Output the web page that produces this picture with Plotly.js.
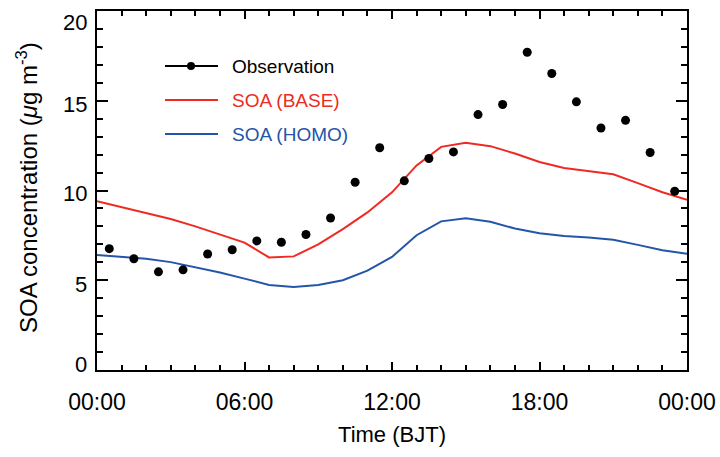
<!DOCTYPE html>
<html>
<head>
<meta charset="utf-8">
<script src="https://cdn.plot.ly/plotly-3.0.1.min.js"></script>
<style>html,body{margin:0;padding:0;background:#fff;}#chart{width:720px;height:457px;}</style>
</head>
<body>
<div id="chart"></div>
<script>
// Observation (hourly, at half hours)
const obsHours = [0.5,1.5,2.5,3.5,4.5,5.5,6.5,7.5,8.5,9.5,10.5,11.5,12.5,13.5,14.5,15.5,16.5,17.5,18.5,19.5,20.5,21.5,22.5,23.5];
const obsValues = [6.76,6.2,5.47,5.58,6.46,6.7,7.19,7.12,7.55,8.47,10.46,12.38,10.54,11.78,12.15,14.23,14.79,17.7,16.52,14.94,13.48,13.91,12.12,9.96];
// Model (hourly)
const modelHours = [0,1,2,3,4,5,6,7,8,9,10,11,12,13,14,15,16,17,18,19,20,21,22,23,24];
const baseValues = [9.4,9.06,8.74,8.41,8.0,7.56,7.1,6.27,6.33,7.0,7.85,8.78,9.9,11.4,12.43,12.66,12.47,12.06,11.59,11.25,11.07,10.9,10.41,9.9,9.48];
const homoValues = [6.4,6.29,6.2,6.01,5.73,5.43,5.09,4.74,4.63,4.74,5.0,5.54,6.3,7.51,8.28,8.46,8.26,7.88,7.62,7.47,7.38,7.26,6.97,6.67,6.48];
const xTickVals = [0,6,12,18,24];
const xTickText = ['00:00','06:00','12:00','18:00','00:00'];
const yTickVals = [0,5,10,15,20];
const yTickText = ['0','5','10','15','20'];
const seriesNames = ['Observation','SOA (BASE)','SOA (HOMO)'];
const seriesColors = ['#000000','#ee2a22','#2455a8'];
const xTitle = 'Time (BJT)';
const yTitle = 'SOA concentration (<i>μ</i>g m<sup>-3</sup>)';

const FONT = 'Liberation Sans, Arial, Helvetica, sans-serif';
const L = 97, R = 687, T = 11, B = 370;
const W = 720, H = 457;
function px(X){return (X - L)/(R - L);}
function py(Y){return (B - Y)/(B - T);}

const traces = [
  {x: modelHours, y: baseValues, type:'scatter', mode:'lines', name: seriesNames[1],
   line:{color: seriesColors[1], width:2}, showlegend:false},
  {x: modelHours, y: homoValues, type:'scatter', mode:'lines', name: seriesNames[2],
   line:{color: seriesColors[2], width:2}, showlegend:false},
  {x: obsHours, y: obsValues, type:'scatter', mode:'markers', name: seriesNames[0],
   marker:{color: seriesColors[0], size:9}, showlegend:false}
];

// manual legend (keys)
const legRows = [66, 100, 134];
const shapes = [];
const annotations = [];
legRows.forEach((yy, i) => {
  shapes.push({type:'line', xref:'paper', yref:'paper', x0:px(165), x1:px(218), y0:py(yy), y1:py(yy),
    line:{color: seriesColors[i], width:2}});
  annotations.push({xref:'paper', yref:'paper', x:px(230), y:py(yy), xanchor:'left', yanchor:'middle',
    text: seriesNames[i], showarrow:false, font:{family:FONT, size:19, color: seriesColors[i]}});
});
shapes.push({type:'circle', xref:'paper', yref:'paper', x0:px(187), x1:px(195), y0:py(62), y1:py(70),
  fillcolor:'#000', line:{color:'#000', width:0}});
// y-axis tick labels as annotations placed on the y scale
const yLabelShift = {0: 6, 5: -4, 10: -3, 15: -4, 20: -11};
yTickVals.forEach((v, i) => {
  annotations.push({xref:'paper', yref:'y', x:px(89), y:v, xanchor:'right', yanchor:'middle',
    yshift: yLabelShift[v],
    text: yTickText[i], showarrow:false, font:{family:FONT, size:22, color:'#000'}});
});
// y-axis title
annotations.push({xref:'paper', yref:'paper', x:px(27), y:py(188), xanchor:'center', yanchor:'middle',
  textangle:-90, text: yTitle, showarrow:false, font:{family:FONT, size:24, color:'#000'}});

const layout = {
  width: W, height: H,
  margin: {l: L, r: W - R, t: T, b: H - B},
  paper_bgcolor:'#fff', plot_bgcolor:'#fff',
  font:{family: FONT, color:'#000'},
  showlegend:false,
  xaxis:{
    range:[0,24], tickmode:'array', tickvals:xTickVals, ticktext:xTickText,
    ticks:'inside', ticklen:8, tickwidth:2, tickcolor:'#000',
    minor:{dtick:1, ticks:'inside', ticklen:5, tickwidth:2, tickcolor:'#000'},
    showline:true, linecolor:'#000', linewidth:2, mirror:'allticks',
    showgrid:false, zeroline:false,
    tickfont:{family:FONT, size:23, color:'#000'},
    ticklabelstandoff: 10,
    title:{text: xTitle, font:{family:FONT, size:22, color:'#000'}, standoff:13}
  },
  yaxis:{
    range:[0,20], tickmode:'array', tickvals:yTickVals, showticklabels:false,
    ticks:'inside', ticklen:11, tickwidth:2, tickcolor:'#000',
    minor:{dtick:1, ticks:'inside', ticklen:6, tickwidth:2, tickcolor:'#000'},
    showline:true, linecolor:'#000', linewidth:2, mirror:'allticks',
    showgrid:false, zeroline:false
  },
  shapes: shapes,
  annotations: annotations
};

Plotly.newPlot('chart', traces, layout, {displayModeBar:false, staticPlot:true});
</script>
</body>
</html>
